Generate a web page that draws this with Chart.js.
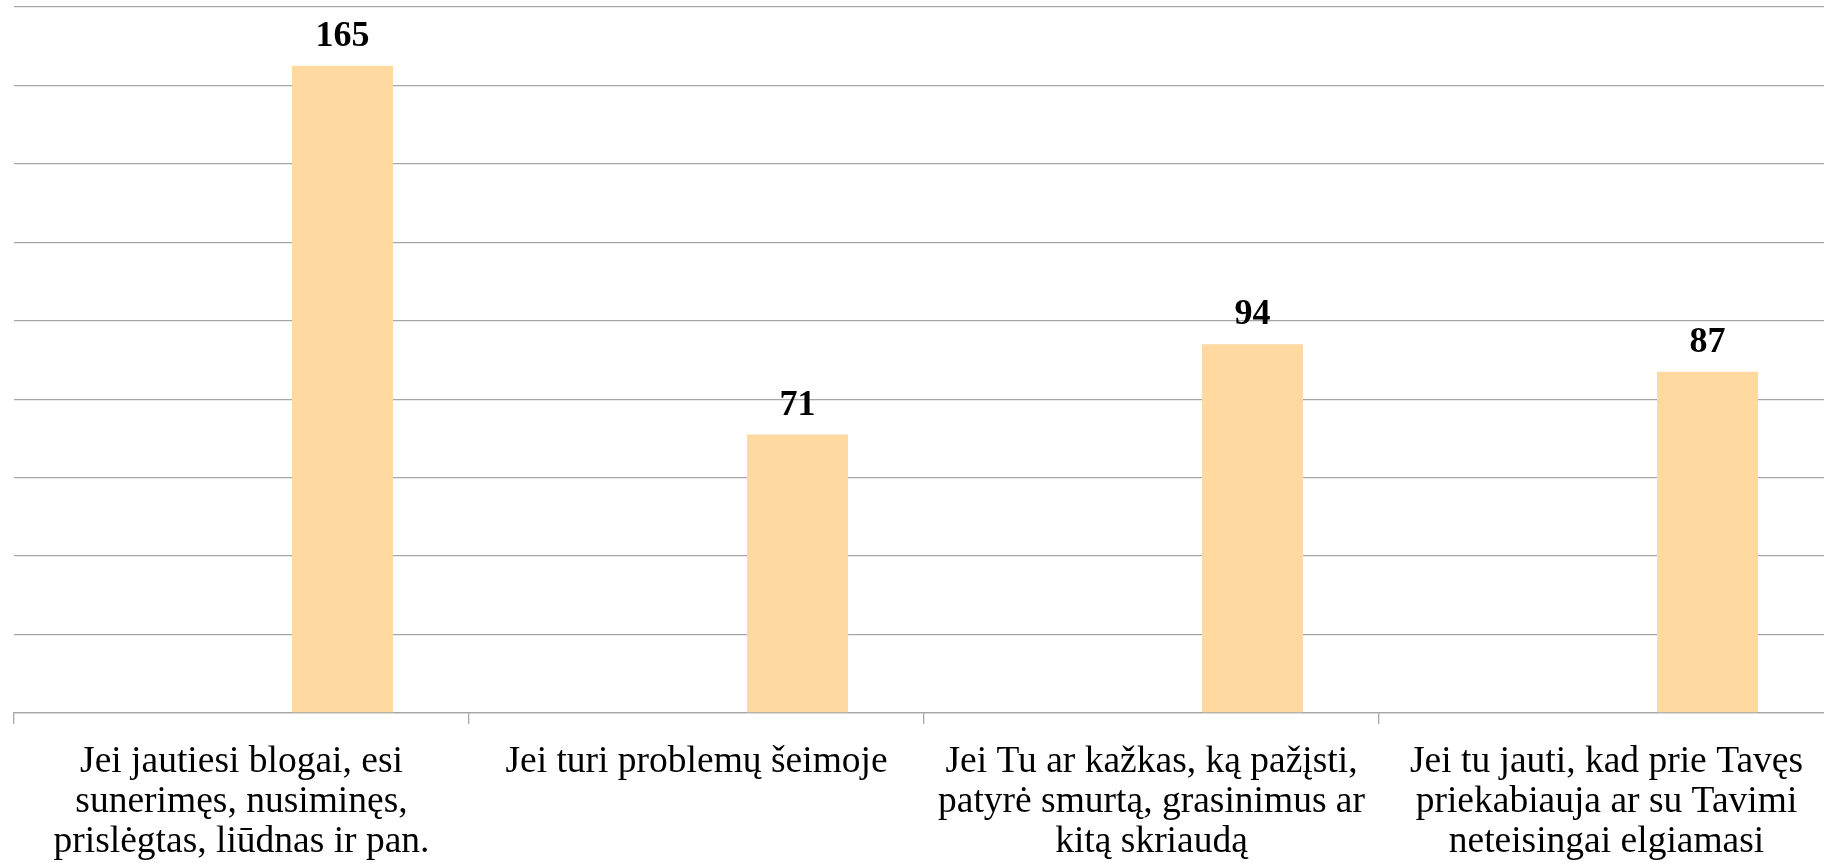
<!DOCTYPE html>
<html>
<head>
<meta charset="utf-8">
<script src="https://cdn.jsdelivr.net/npm/chart.js@4.4.1/dist/chart.umd.min.js"></script>
<style>
  html, body { margin: 0; padding: 0; background: #fff; overflow: hidden; }
  #wrap { position: relative; width: 1840px; height: 863px; }
</style>
</head>
<body>
<div id="wrap"><canvas id="chart"></canvas></div>
<script>
// categories (multi-line, as in the picture)
const categories = [
  ["Jei jautiesi blogai, esi", "sunerimęs, nusiminęs,", "prislėgtas, liūdnas ir pan."],
  ["Jei turi problemų šeimoje"],
  ["Jei Tu ar kažkas, ką pažįsti,", "patyrė smurtą, grasinimus ar", "kitą skriaudą"],
  ["Jei tu jauti, kad prie Tavęs", "priekabiauja ar su Tavimi", "neteisingai elgiamasi"]
];
// empty first series keeps the bars pushed right, like the original
const emptySeries = [null, null, null, null];
const answers = [165, 71, 94, 87];
const yMax = 180;
const yStep = 20;

const serif = "'Liberation Serif', 'Times New Roman', serif";

// value labels above the bars
const valueLabels = {
  id: 'valueLabels',
  afterDatasetsDraw(chart) {
    const ctx = chart.ctx;
    const meta = chart.getDatasetMeta(1);
    ctx.save();
    ctx.font = "bold 36px " + serif;
    ctx.fillStyle = "#000";
    ctx.textAlign = "center";
    ctx.textBaseline = "alphabetic";
    meta.data.forEach((bar, i) => {
      ctx.fillText(String(answers[i]), bar.x, bar.y - 20);
    });
    ctx.restore();
  }
};

new Chart(document.getElementById('chart'), {
  type: 'bar',
  data: {
    labels: categories,
    datasets: [
      { label: 'empty', data: emptySeries, backgroundColor: 'rgba(0,0,0,0)' },
      { label: 'answers', data: answers, backgroundColor: '#FFD99F' }
    ]
  },
  options: {
    responsive: true,
    maintainAspectRatio: false,
    animation: false,
    categoryPercentage: 0.888,
    barPercentage: 0.5,
    layout: {
      padding: { left: 14, right: 6, top: 7, bottom: 0 }
    },
    plugins: {
      legend: { display: false },
      tooltip: { enabled: false }
    },
    scales: {
      x: {
        // keep the label band the same height as the original
        afterFit: (scale) => { scale.height = 150; },
        grid: {
          drawOnChartArea: false,
          drawTicks: true,
          tickLength: 11,
          color: '#a6a6a6',
          lineWidth: 1.3
        },
        border: { display: true, color: '#a6a6a6', width: 1.3 },
        ticks: {
          color: '#000',
          padding: 18,
          maxRotation: 0,
          autoSkip: false,
          font: { family: serif, size: 37.5, lineHeight: 1.07 }
        }
      },
      y: {
        min: 0,
        max: yMax,
        ticks: { display: false, stepSize: yStep },
        grid: { color: '#a6a6a6', lineWidth: 1.3, drawTicks: false },
        border: { display: false }
      }
    }
  },
  plugins: [valueLabels]
});
</script>
</body>
</html>
